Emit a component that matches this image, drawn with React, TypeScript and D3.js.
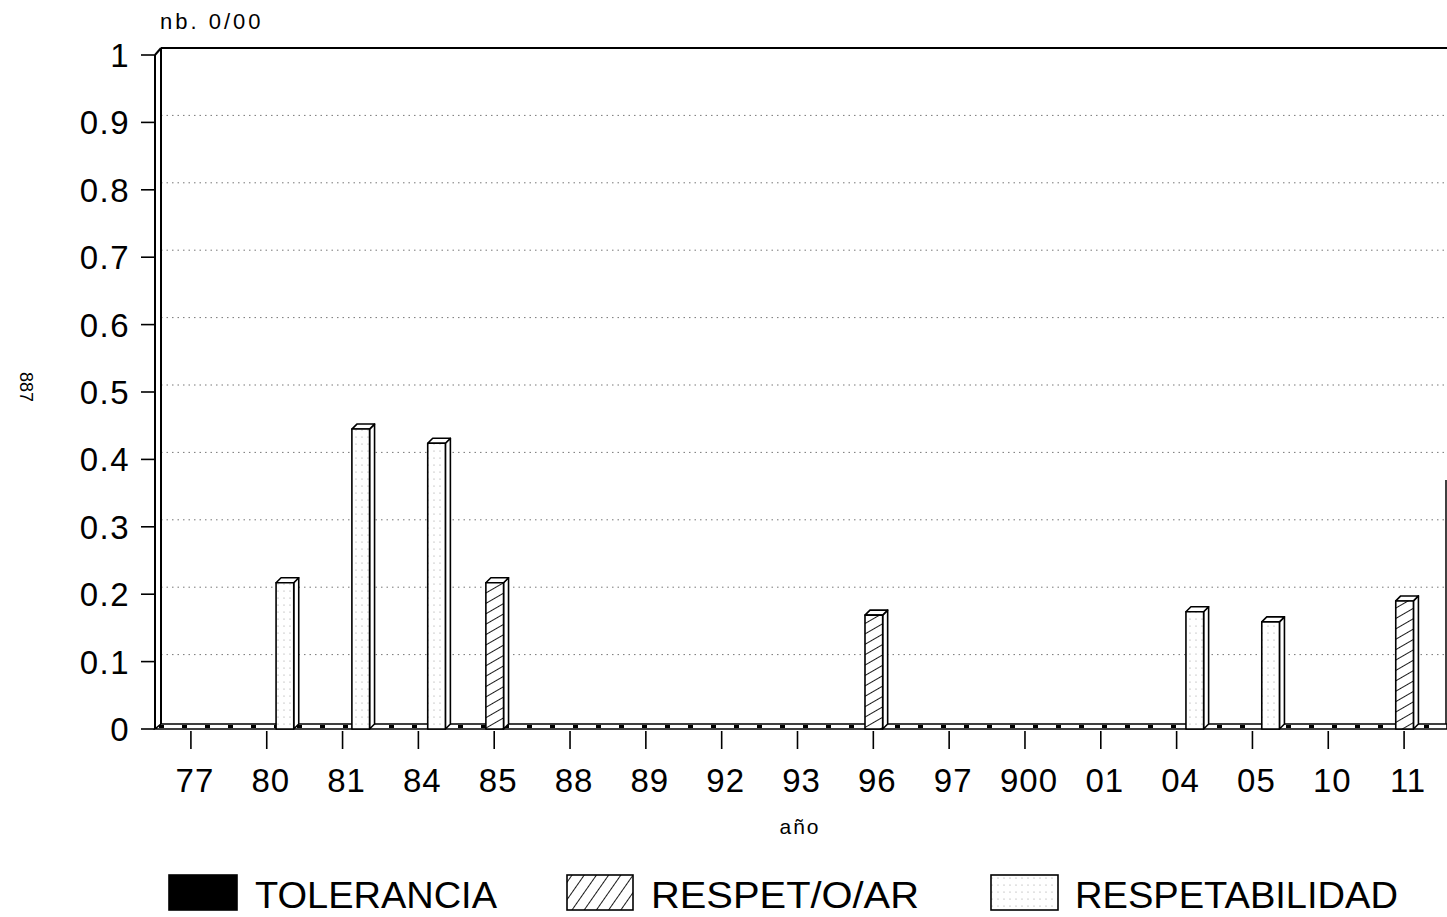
import React from "react";
import * as d3 from "d3";

const categories = ["77", "80", "81", "84", "85", "88", "89", "92", "93", "96", "97", "900", "01", "04", "05", "10", "11"];
const seriesNames = ["TOLERANCIA", "RESPET/O/AR", "RESPETABILIDAD"];
const tolerancia = [0, 0, 0, 0, 0, 0, 0, 0, 0, 0, 0, 0, 0, 0, 0, 0, 0];
const respetOAr = [0, 0, 0, 0, 0.217, 0, 0, 0, 0, 0.169, 0, 0, 0, 0, 0, 0, 0.19];
const respetabilidad = [0, 0.217, 0.445, 0.424, 0, 0, 0, 0, 0, 0, 0, 0, 0, 0.174, 0.159, 0, 0];
const yTicks = [0, 0.1, 0.2, 0.3, 0.4, 0.5, 0.6, 0.7, 0.8, 0.9, 1];
const yTickLabels = ["0", "0.1", "0.2", "0.3", "0.4", "0.5", "0.6", "0.7", "0.8", "0.9", "1"];

const W = 1447;
const H = 917;
const FONT = "'Liberation Sans', Arial, sans-serif";

export default function App() {
  const seriesValues = [tolerancia, respetOAr, respetabilidad];
  const y = d3.scaleLinear().domain([0, 1]).range([729, 55]);
  const x = d3.scaleBand<string>().domain(categories).range([153, 1442]);
  const sub = d3.scaleBand<string>().domain(seriesNames).range([-26, 27]);
  const fills = ["#000", "url(#hatch)", "url(#dots)"];

  const wallDx = 6, wallDy = -7;
  const barDx = 5, barDy = -5;
  const xLeft = 155, xRight = 1447;
  const y0 = y(0);

  const bars: any[] = [];
  seriesValues.forEach((vals, si) => {
    vals.forEach((v, ci) => {
      if (v <= 0) return;
      const cx = (x(categories[ci]) as number) + x.bandwidth() / 2;
      const bx = cx + (sub(seriesNames[si]) as number);
      const bw = sub.bandwidth();
      const by = y(v);
      bars.push(
        <g key={`${si}-${ci}`} stroke="#000" strokeWidth={1.6} strokeLinejoin="round">
          <polygon points={`${bx + bw},${by} ${bx + bw + barDx},${by + barDy} ${bx + bw + barDx},${y0 + barDy} ${bx + bw},${y0}`} fill="#fff" />
          <polygon points={`${bx},${by} ${bx + barDx},${by + barDy} ${bx + bw + barDx},${by + barDy} ${bx + bw},${by}`} fill="#fff" />
          <rect x={bx} y={by} width={bw} height={y0 - by} fill={fills[si]} />
        </g>
      );
    });
  });

  const legendItems = [
    { box: 169, boxW: 68, text: 255, textW: 242 },
    { box: 567, boxW: 66, text: 651, textW: 268 },
    { box: 991, boxW: 67, text: 1075, textW: 323 },
  ];

  return (
    <svg width={W} height={H} style={{ position: "absolute", left: 0, top: 0, background: "#fff" }} fontFamily={FONT}>
      <defs>
        <pattern id="hatch" patternUnits="userSpaceOnUse" width="9" height="9" patternTransform="rotate(60)">
          <rect width="9" height="9" fill="#fff" />
          <line x1="0" y1="0" x2="0" y2="9" stroke="#000" strokeWidth="1.8" />
        </pattern>
        <pattern id="hatchLeg" patternUnits="userSpaceOnUse" width="10" height="10" patternTransform="rotate(35)">
          <rect width="10" height="10" fill="#fff" />
          <line x1="0" y1="0" x2="0" y2="10" stroke="#000" strokeWidth="1.8" />
        </pattern>
        <pattern id="dots" patternUnits="userSpaceOnUse" width="6" height="7">
          <rect width="6" height="7" fill="#fff" />
          <circle cx="2" cy="3" r="0.6" fill="#999" />
        </pattern>
      </defs>

      {/* page number */}
      <text x={20} y={387} fontSize={18} transform="rotate(90 20 387)" textAnchor="middle" fill="#000">887</text>

      {/* title */}
      <text x={160} y={29} fontSize={22} letterSpacing={3} fill="#000">nb. 0/00</text>

      {/* gridlines (back wall) */}
      {yTicks.filter((t) => t > 0 && t < 1).map((t) => (
        <line key={t} x1={xLeft + wallDx} x2={xRight} y1={y(t) + wallDy} y2={y(t) + wallDy} stroke="#777" strokeWidth={1} strokeDasharray="1.5 4" />
      ))}

      {/* top border */}
      <line x1={xLeft + wallDx} x2={xRight} y1={y(1) + wallDy} y2={y(1) + wallDy} stroke="#000" strokeWidth={2} />

      {/* left wall */}
      <g stroke="#000" strokeWidth={2} fill="none">
        <line x1={xLeft} x2={xLeft} y1={y(1)} y2={y0} />
        <line x1={xLeft + wallDx} x2={xLeft + wallDx} y1={y(1) + wallDy} y2={y0} />
        <line x1={xLeft} x2={xLeft + wallDx} y1={y(1)} y2={y(1) + wallDy} />
      </g>

      {/* right edge */}
      <line x1={1446} x2={1446} y1={480} y2={y0} stroke="#000" strokeWidth={1.5} />

      {/* y ticks & labels */}
      {yTicks.map((t, i) => (
        <g key={t}>
          <line x1={141} x2={xLeft} y1={y(t)} y2={y(t)} stroke="#000" strokeWidth={1.6} />
          <text x={130} y={y(t) + 12} fontSize={33} letterSpacing={1.5} textAnchor="end" fill="#000">{yTickLabels[i]}</text>
        </g>
      ))}

      {/* floor */}
      <polygon points={`${xLeft},${y0} ${xRight},${y0} ${xRight},${y0 - 5} ${xLeft + wallDx},${y0 - 5}`} fill="#fff" stroke="#000" strokeWidth={1.6} />
      <line x1={xLeft + 4} x2={xRight} y1={y0 - 2.5} y2={y0 - 2.5} stroke="#000" strokeWidth={3} strokeDasharray="5 18" />

      {bars}

      {/* x ticks & labels */}
      {categories.map((c) => {
        const cx = (x(c) as number) + x.bandwidth() / 2;
        return (
          <g key={c}>
            <line x1={cx} x2={cx} y1={y0 + 2} y2={y0 + 20} stroke="#000" strokeWidth={1.6} />
            <text x={cx + 4} y={792} fontSize={33} letterSpacing={1} textAnchor="middle" fill="#000">{c}</text>
          </g>
        );
      })}

      <text x={800} y={834} fontSize={21} letterSpacing={2} textAnchor="middle" fill="#000">año</text>

      {/* legend */}
      {seriesNames.map((s, i) => {
        const it = legendItems[i];
        return (
          <g key={s}>
            <rect x={it.box} y={875} width={it.boxW} height={35} fill={i === 1 ? "url(#hatchLeg)" : fills[i]} stroke="#000" strokeWidth={1.6} />
            <text x={it.text} y={908} fontSize={37} textLength={it.textW} lengthAdjust="spacingAndGlyphs" fill="#000">{s}</text>
          </g>
        );
      })}
    </svg>
  );
}
